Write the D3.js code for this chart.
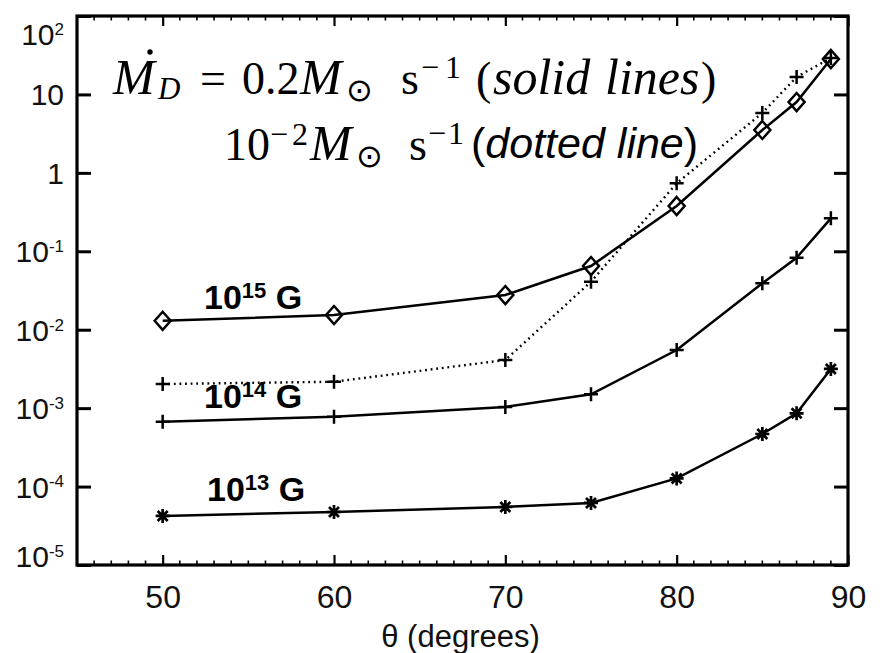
<!DOCTYPE html>
<html>
<head>
<meta charset="utf-8">
<script src="https://cdn.jsdelivr.net/npm/d3@7/dist/d3.min.js"></script>
<style>
  html, body { margin: 0; padding: 0; background: #fff; }
  svg { display: block; }
</style>
</head>
<body>
<svg id="chart" width="882" height="653"></svg>
<script>
// ---------------- data ----------------
const theta = [50, 60, 70, 75, 80, 85, 87, 89];
const field15 = [0.0130, 0.0154, 0.0277, 0.0649, 0.378, 3.52, 8.0, 28.3];
const field14 = [6.71e-4, 7.78e-4, 1.035e-3, 1.50e-3, 5.51e-3, 0.0391, 0.0828, 0.263];
const field13 = [4.22e-5, 4.74e-5, 5.49e-5, 6.18e-5, 1.27e-4, 4.68e-4, 8.59e-4, 3.16e-3];
const field14LowRate = [2.03e-3, 2.17e-3, 4.11e-3, 0.0409, 0.736, 5.8, 16.7, 29.1];

const xTicks = [50, 60, 70, 80, 90];
const xTickLabels = ["50", "60", "70", "80", "90"];
const xMinorTicks = d3.range(46, 90, 1);
const yTicks = [1e-5, 1e-4, 1e-3, 1e-2, 1e-1, 1, 10, 100];
const yTickBase = ["10", "10", "10", "10", "10", "1", "10", "10"];
const yTickExp = ["-5", "-4", "-3", "-2", "-1", "", "", "2"];
const xLabel = "\u03b8 (degrees)";

const series = [
  { name: "15", values: field15, marker: "diamond", dotted: false },
  { name: "14", values: field14, marker: "plus", dotted: false },
  { name: "13", values: field13, marker: "asterisk", dotted: false },
  { name: "14low", values: field14LowRate, marker: "plus", dotted: true }
];
const fieldLabels = [
  { base: "10", exp: "15", unit: "G", x: 204, y: 309 },
  { base: "10", exp: "14", unit: "G", x: 204, y: 408 },
  { base: "10", exp: "13", unit: "G", x: 207, y: 501 }
];

// ---------------- layout ----------------
const L = 77, R = 848, T = 16, B = 565;
const svg = d3.select("#chart");
const x = d3.scaleLinear().domain([45, 90]).range([L, R]);
const y = d3.scaleLog().domain([1e-5, 1e2]).range([B, T]);
const sans = "'Liberation Sans', Arial, Helvetica, sans-serif";
const serif = "'Liberation Serif', 'Times New Roman', serif";
const symb = "'DejaVu Sans', sans-serif";

// minor ticks top & bottom
const minorVals = xMinorTicks.filter(v => !xTicks.includes(v));
const minor = svg.append("g").attr("stroke", "#000").attr("stroke-width", 1.6);
minor.selectAll("line.mb").data(minorVals).enter()
  .append("line").attr("x1", d => x(d)).attr("x2", d => x(d)).attr("y1", B).attr("y2", B - 4.5);
minor.selectAll("line.mt").data(minorVals).enter()
  .append("line").attr("x1", d => x(d)).attr("x2", d => x(d)).attr("y1", T).attr("y2", T + 4.5);

// bottom axis
const gx = svg.append("g").attr("transform", `translate(0,${B})`)
  .call(d3.axisBottom(x).tickValues(xTicks).tickSizeInner(-10).tickSizeOuter(0).tickPadding(20)
    .tickFormat((d, i) => xTickLabels[i]));
gx.select(".domain").remove();
gx.selectAll(".tick line").attr("stroke-width", 2.2);
gx.selectAll("text").attr("font-family", sans).attr("font-size", 32).attr("fill", "#111");

// top axis ticks (no labels)
const gxt = svg.append("g").attr("transform", `translate(0,${T})`)
  .call(d3.axisTop(x).tickValues(xTicks).tickSizeInner(-10).tickSizeOuter(0).tickFormat(""));
gxt.select(".domain").remove();
gxt.selectAll(".tick line").attr("stroke-width", 2.2);

// left axis
const gy = svg.append("g").attr("transform", `translate(${L},0)`)
  .call(d3.axisLeft(y).tickValues(yTicks).tickSizeInner(-14).tickSizeOuter(0).tickPadding(13)
    .tickFormat(() => ""));
gy.select(".domain").remove();
gy.selectAll(".tick line").attr("stroke-width", 3);
gy.selectAll(".tick text").each(function (d, i) {
  const t = d3.select(this)
    .attr("font-family", sans).attr("font-size", 30).attr("fill", "#111")
    .attr("dy", i === yTicks.length - 1 ? "0.95em" : (i === 0 ? "0.05em" : "0.35em"));
  t.append("tspan").text(yTickBase[i]);
  if (yTickExp[i]) {
    t.append("tspan").attr("font-size", 17).attr("dy", "-0.6em").text(yTickExp[i]);
  }
});

// right axis ticks
const gyr = svg.append("g").attr("transform", `translate(${R},0)`)
  .call(d3.axisRight(y).tickValues(yTicks).tickSizeInner(-14).tickSizeOuter(0).tickFormat(""));
gyr.select(".domain").remove();
gyr.selectAll(".tick line").attr("stroke-width", 3);

// frame
svg.append("rect").attr("x", L).attr("y", T).attr("width", R - L).attr("height", B - T)
  .attr("fill", "none").attr("stroke", "#000").attr("stroke-width", 3.2);

// x label
svg.append("text").attr("x", (L + R) / 2 - 2).attr("y", 647).attr("text-anchor", "middle")
  .attr("font-family", sans).attr("font-size", 31).attr("fill", "#111").text(xLabel);

// lines
const line = d3.line().x((d, i) => x(theta[i])).y(d => y(d));
svg.append("g").selectAll("path").data(series).enter().append("path")
  .attr("d", s => line(s.values))
  .attr("fill", "none").attr("stroke", "#000")
  .attr("stroke-width", s => s.dotted ? 2.4 : 2.5)
  .attr("stroke-dasharray", s => s.dotted ? "1.8,3.8" : null);

// markers
const markerPath = {
  diamond: "M0,-9L8,0L0,9L-8,0Z",
  plus: "M-7,0L7,0M0,-7L0,7",
  asterisk: "M-7,0L7,0M0,-7L0,7M-5,-5L5,5M-5,5L5,-5"
};
series.forEach(s => {
  svg.append("g").selectAll("path").data(s.values).enter().append("path")
    .attr("transform", (d, i) => `translate(${x(theta[i])},${y(d)})`)
    .attr("d", markerPath[s.marker])
    .attr("fill", "none").attr("stroke", "#000")
    .attr("stroke-width", s.marker === "asterisk" ? 2.7 : 2.5);
});

// field labels
fieldLabels.forEach(f => {
  const t = svg.append("text").attr("x", f.x).attr("y", f.y)
    .attr("font-family", sans).attr("font-weight", "bold").attr("font-size", 34).attr("fill", "#000");
  t.append("tspan").text(f.base);
  t.append("tspan").attr("font-size", 22).attr("dy", -11).text(f.exp);
  t.append("tspan").attr("dy", 11).text(" " + f.unit);
});

// annotation text (rich segments, each placed at its own start)
function rich(yp, segs) {
  const t = svg.append("text").attr("y", yp).attr("fill", "#000");
  let cur = 0;
  segs.forEach(s => {
    const sh = s.shift || 0;
    const ts = t.append("tspan")
      .attr("font-family", s.font || serif)
      .attr("font-size", s.size || 46)
      .attr("font-style", s.italic ? "italic" : "normal")
      .attr("dy", sh - cur)
      .text(s.t);
    if (s.x != null) ts.attr("x", s.x);
    cur = sh;
  });
  return t;
}
rich(94, [
  { t: "M", italic: true, size: 50, x: 113 },
  { t: "D", italic: true, size: 31, shift: 5, x: 158 },
  { t: "=", x: 200 },
  { t: "0.2", x: 242 },
  { t: "M", italic: true, size: 50, x: 300 },
  { t: "\u2299", font: symb, size: 32, shift: 7, x: 346 },
  { t: "s", x: 401 },
  { t: "\u2212", size: 32, shift: -16, x: 421 },
  { t: "1", size: 32, shift: -16, x: 445 },
  { t: "(", x: 476 },
  { t: "solid", italic: true, size: 50, x: 493 },
  { t: "lines", italic: true, size: 50, x: 605 },
  { t: ")", x: 701 }
]);
// the dot accent of M-dot
svg.append("circle").attr("cx", 150).attr("cy", 52).attr("r", 2.7).attr("fill", "#000");
rich(160, [
  { t: "10", x: 224 },
  { t: "\u2212", size: 32, shift: -15, x: 270 },
  { t: "2", size: 32, shift: -15, x: 292 },
  { t: "M", italic: true, size: 50, x: 310 },
  { t: "\u2299", font: symb, size: 32, shift: 7, x: 356 },
  { t: "s", x: 409 },
  { t: "\u2212", size: 32, shift: -16, x: 428 },
  { t: "1", size: 32, shift: -16, x: 448 },
  { t: "(", font: sans, size: 43, shift: -2, x: 471 },
  { t: "dotted line", font: sans, size: 43, italic: true, shift: -2 },
  { t: ")", font: sans, size: 43, shift: -2 }
]);
</script>
</body>
</html>
